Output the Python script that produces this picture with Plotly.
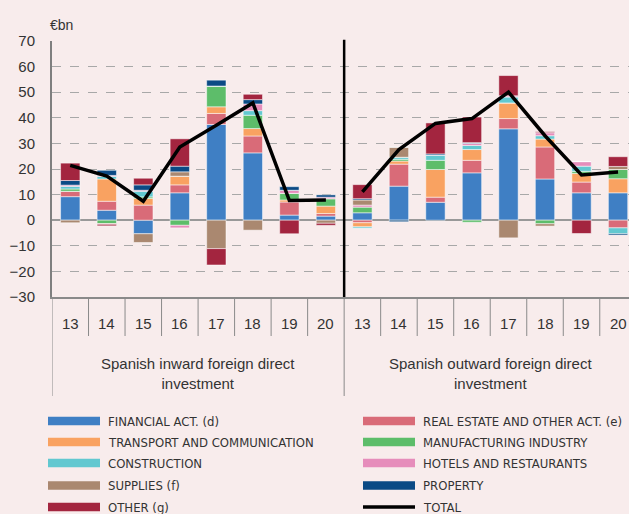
import plotly.graph_objects as go

# categories
years = ["13", "14", "15", "16", "17", "18", "19", "20"]
groups = ["Spanish inward foreign direct<br>investment", "Spanish outward foreign direct<br>investment"]

# series values (EUR bn), inward 13-20 then outward 13-20
financial = [9.2, 3.9, -5.3, 10.7, 37.4, 26.3, 2.0, 1.6, 2.9, 13.3, 7.0, 18.5, 35.7, 16.1, 10.7, 10.7]
real_estate = [2.1, 3.5, 5.9, 3.1, 4.3, 6.6, 5.1, 1.0, -1.0, 8.6, 2.0, 4.9, 4.0, 12.5, 4.2, -3.0]
transport = [0, 8.7, 2.6, 3.4, 2.6, 2.9, 0.8, 2.9, -1.6, 1.2, 10.8, 4.2, 6.1, 3.1, 3.4, 5.5]
manufacturing = [0.9, -1.3, 0.6, -2.0, 8.1, 5.2, 2.6, 2.9, 2.2, 0.7, 3.6, -0.8, 0, -1.4, 0.8, 3.6]
construction = [1.0, 1.0, 2.2, 0, 0, 1.8, 0, 0, -0.5, 0.8, 2.0, 1.6, 2.3, 1.3, 2.0, -2.3]
hotels = [0.5, 0.4, 0.4, -1.0, 0, 2.6, 1.2, 0.6, 0.8, 0, 0, 0.8, 0.5, 1.2, 1.8, 0]
supplies = [-1.0, -0.3, -3.4, 1.7, -11.1, -3.9, 0, -1.2, 2.0, 3.9, 0, 0, -6.9, -0.9, 0, 1.2]
property_ = [1.8, 2.0, 2.1, 2.2, 2.3, 1.7, 1.4, 0.9, 0.5, -0.6, 0.5, 0.3, 0, 0, 0, -0.5]
other = [6.8, -0.6, 2.6, 10.7, -6.4, 2.1, -5.3, -0.8, 5.5, 0, 12.1, 10.0, 7.9, 0.4, -5.2, 3.8]
total = [21.4, 17.2, 7.4, 28.6, 37.1, 45.8, 7.7, 7.9, 11.1, 27.6, 37.8, 39.7, 50.0, 33.0, 17.7, 18.8]

series = [
    ("FINANCIAL ACT. (d)", financial, "#3f7fc4"),
    ("REAL ESTATE AND OTHER ACT. (e)", real_estate, "#d96b78"),
    ("TRANSPORT AND COMMUNICATION", transport, "#f9a261"),
    ("MANUFACTURING INDUSTRY", manufacturing, "#5dbd6a"),
    ("CONSTRUCTION", construction, "#62c8d0"),
    ("HOTELS AND RESTAURANTS", hotels, "#e68dbb"),
    ("SUPPLIES (f)", supplies, "#aa8870"),
    ("PROPERTY", property_, "#0b4a85"),
    ("OTHER (g)", other, "#a3253f"),
]

W, H = 629, 514
L, R, T, B = 52, 0, 41, 217
BG = "#f8ecec"
FONT = "Liberation Sans, Arial, sans-serif"
NARROW = "DejaVu Sans Condensed, Liberation Sans Narrow, sans-serif"
TXT = "#333"

n = len(years) * len(groups)
xs = list(range(n))


def px(x):
    # page pixel x -> plot paper x
    return (x - L) / (W - L - R)


def py(y):
    # page pixel y (from top) -> plot paper y
    return (H - B - y) / (H - T - B)


fig = go.Figure()
for name, vals, col in series:
    fig.add_trace(go.Bar(x=xs, y=vals, name=name, marker_color=col,
                         marker_line=dict(color="rgba(255,255,255,0.5)", width=1)))

xl = xs[:8] + [7.5] + xs[8:]
yl = total[:8] + [None] + total[8:]
fig.add_trace(go.Scatter(x=xl, y=yl, mode="lines", name="TOTAL",
                         line=dict(color="black", width=3.5), connectgaps=False))

shapes = []
# divider between inward / outward
shapes.append(dict(type="line", xref="x", yref="paper", x0=7.5, x1=7.5, y0=0, y1=1.005,
                   line=dict(color="black", width=2.5)))
# category separators below the axis
for i in range(n):
    edge = i - 0.5
    shapes.append(dict(type="line", xref="x", yref="paper", x0=edge, x1=edge,
                       y0=py(396 if i % 8 == 0 else 336), y1=0,
                       line=dict(color="#8a8a8a", width=1)))

ann = []
for i in range(n):
    ann.append(dict(x=i, y=py(323), xref="x", yref="paper", text=years[i % 8],
                    showarrow=False, yanchor="middle",
                    font=dict(family=FONT, size=15, color=TXT)))
for g, label in enumerate(groups):
    ann.append(dict(x=3.5 + 8 * g, y=py(373), xref="x", yref="paper", text=label,
                    showarrow=False, yanchor="middle",
                    font=dict(family=FONT, size=15, color=TXT)))
ann.append(dict(x=px(48), y=py(25), xref="paper", yref="paper", text="€bn",
                showarrow=False, xanchor="left", yanchor="middle",
                font=dict(family=FONT, size=14, color=TXT)))

# legend: wide swatches + text, two columns
legend_items = [(name, col, 8.5) for name, _, col in series] + [("TOTAL", "black", 3.5)]
rows_y = [421, 442, 463, 485.5, 507]
for k, (name, col, th) in enumerate(legend_items):
    c, r = k % 2, k // 2
    x0 = 48 if c == 0 else 363
    yc = rows_y[r]
    shapes.append(dict(type="rect", xref="paper", yref="paper",
                       x0=px(x0), x1=px(x0 + 52), y0=py(yc + th / 2), y1=py(yc - th / 2),
                       line=dict(width=0), fillcolor=col))
    ann.append(dict(x=px(x0 + 58), y=py(yc), xref="paper", yref="paper", text=name,
                    showarrow=False, xanchor="left", yanchor="middle",
                    font=dict(family=NARROW, size=13, color=TXT)))

fig.update_layout(
    width=W, height=H, barmode="relative", bargap=0.47,
    paper_bgcolor=BG, plot_bgcolor=BG, showlegend=False,
    margin=dict(l=L, r=R, t=T, b=B),
    xaxis=dict(range=[-0.5, 15.3], showticklabels=False, showgrid=False, zeroline=False,
               showline=True, linecolor="#8a8a8a", linewidth=1.5, fixedrange=True),
    yaxis=dict(range=[-30, 70], dtick=10, showgrid=True, gridcolor="#a8a8a8", griddash="dash",
               gridwidth=1.2, zeroline=True, zerolinecolor="#999", zerolinewidth=1.5,
               showline=True, linecolor="#7f7f7f", linewidth=2, ticks="",
               ticklabelstandoff=12, tickfont=dict(family=FONT, size=15, color=TXT)),
    shapes=shapes,
    annotations=ann,
)

fig.write_html("out.html", config={"displayModeBar": False},
               post_script="document.body.style.margin='0';")
